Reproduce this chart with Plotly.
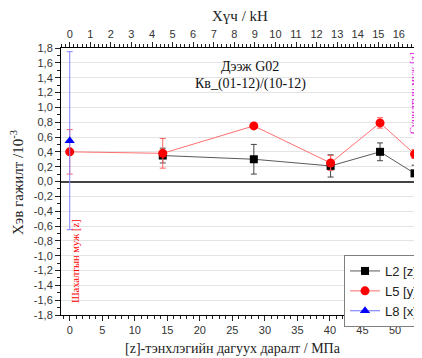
import plotly.graph_objects as go

# ---------------- data ----------------
l2_x = [14.3, 28.3, 40.1, 47.7, 53.0]          # MPa
l2_y = [0.35, 0.30, 0.21, 0.40, 0.11]
l2_err = [0.10, 0.20, 0.15, 0.12, 0.11]

l5_x = [0.0, 14.3, 28.3, 40.1, 47.7, 53.0]
l5_y = [0.40, 0.38, 0.75, 0.25, 0.79, 0.37]
l5_err = [0.30, 0.20, 0.03, 0.10, 0.07, 0.06]

l8_x = [0.0]
l8_y = [0.55]
l8_err = [1.20]

y_tick_vals = [1.8, 1.6, 1.4, 1.2, 1.0, 0.8, 0.6, 0.4, 0.2, 0.0,
               -0.2, -0.4, -0.6, -0.8, -1.0, -1.2, -1.4, -1.6, -1.8]
y_tick_text = ["1,8", "1,6", "1,4", "1,2", "1,0", "0,8", "0,6", "0,4", "0,2", "0,0",
               "-0,2", "-0,4", "-0,6", "-0,8", "-1,0", "-1,2", "-1,4", "-1,6", "-1,8"]

mpa_per_kn = 3.162
x_range = [-1.34, 54.15]

# ---------------- layout helpers ----------------
OFF = 8                       # default page (body) margin
W, H = 414, 350               # figure size so page coords = fig coords + 8
L, R, T, B = 53, 414, 40, 307  # plot area in figure pixels


def px(xp):   # page pixel -> paper fraction
    return (xp - OFF - L) / (R - L)


def py(yp):
    return (B - (yp - OFF)) / (B - T)


SANS = "Liberation Sans, Arial, sans-serif"
SERIF = "Liberation Serif, Times New Roman, serif"

fig = go.Figure()

fig.add_trace(go.Scatter(
    x=l2_x, y=l2_y, name="L2 [z]", mode="lines+markers",
    line=dict(color="#5a5a5a", width=1),
    marker=dict(symbol="square", size=8, color="black"),
    error_y=dict(type="data", array=l2_err, color="#444444", thickness=1, width=3),
))
fig.add_trace(go.Scatter(
    x=l5_x, y=l5_y, name="L5 [y]", mode="lines+markers",
    line=dict(color="#ff7070", width=1),
    marker=dict(symbol="circle", size=9, color="#ff0000"),
    error_y=dict(type="data", array=l5_err, color="#ff6060", thickness=1, width=3),
))
fig.add_trace(go.Scatter(
    x=l8_x, y=l8_y, name="L8 [x]", mode="lines+markers",
    line=dict(color="#7070ff", width=1),
    marker=dict(symbol="triangle-up", size=9, color="#0000ff"),
    error_y=dict(type="data", array=l8_err, color="#8080ff", thickness=1, width=3),
))
# invisible trace to activate the top axis
fig.add_trace(go.Scatter(x=[0], y=[0], xaxis="x2", mode="markers",
                         marker=dict(opacity=0), showlegend=False, hoverinfo="skip"))

fig.update_layout(
    width=W, height=H,
    margin=dict(l=L, r=W - R, t=T, b=H - B, pad=0, autoexpand=False),
    paper_bgcolor="white", plot_bgcolor="white",
    font=dict(family=SANS, size=11, color="#333333"),
    xaxis=dict(
        range=x_range, dtick=5, tick0=0, ticks="outside", ticklen=5,
        tickcolor="#222", showline=True, linecolor="black", linewidth=1,
        showgrid=False, zeroline=False, ticklabeloverflow="allow",
        tickfont=dict(family=SANS, size=11, color="#333"),
        minor=dict(dtick=1, ticks="outside", ticklen=3, tickcolor="#222", showgrid=False),
    ),
    xaxis2=dict(
        overlaying="x", side="top",
        range=[x_range[0] / mpa_per_kn, x_range[1] / mpa_per_kn],
        dtick=1, tick0=0, ticks="outside", ticklen=5, tickcolor="#222",
        showline=True, linecolor="black", linewidth=1,
        showgrid=False, zeroline=False, ticklabeloverflow="allow",
        tickfont=dict(family=SANS, size=11, color="#333"),
        minor=dict(dtick=0.2, ticks="outside", ticklen=3, tickcolor="#222", showgrid=False),
    ),
    yaxis=dict(
        range=[-1.8, 1.8], tickvals=y_tick_vals, ticktext=y_tick_text,
        ticks="outside", ticklen=5, tickcolor="#222",
        showline=True, linecolor="black", linewidth=1,
        showgrid=True, gridcolor="#e4e4e4", gridwidth=1,
        zeroline=True, zerolinecolor="#444444", zerolinewidth=1.5,
        tickfont=dict(family=SANS, size=11, color="#333"),
        minor=dict(dtick=0.1, ticks="outside", ticklen=3, tickcolor="#222", showgrid=False),
    ),
    legend=dict(
        x=px(344), y=py(255), xanchor="left", yanchor="top",
        bgcolor="white", bordercolor="#7f7f7f", borderwidth=1,
        font=dict(family=SANS, size=13, color="#222"),
        tracegroupgap=0,
    ),
    showlegend=True,
)

ann = [
    dict(text="Хүч / kH", x=px(240), y=py(16), font=dict(family=SERIF, size=15, color="#222")),
    dict(text="[z]-тэнхлэгийн дагуух даралт / МПа", x=px(233), y=py(348),
         font=dict(family=SERIF, size=14, color="#222")),
    dict(text="Хэв гажилт /10<sup>-3</sup>", x=px(17), y=py(183), textangle=-90,
         font=dict(family=SERIF, size=15, color="#222")),
    dict(text="Дээж G02", x=px(250), y=py(67), font=dict(family=SERIF, size=14, color="#111")),
    dict(text="Кв_(01-12)/(10-12)", x=px(250), y=py(84), font=dict(family=SERIF, size=14, color="#111")),
    dict(text="Шахалтын муж [z]", x=px(75), y=py(261), textangle=-90,
         font=dict(family=SERIF, size=10.5, color="#ff0000")),
    dict(text="Сунилтын муж [z]", x=px(413), y=py(93), textangle=-90,
         font=dict(family=SERIF, size=10.5, color="#dd00dd")),
]
for a in ann:
    a.update(xref="paper", yref="paper", showarrow=False, xanchor="center", yanchor="middle")
fig.update_layout(annotations=ann)

fig.write_html("out.html")
